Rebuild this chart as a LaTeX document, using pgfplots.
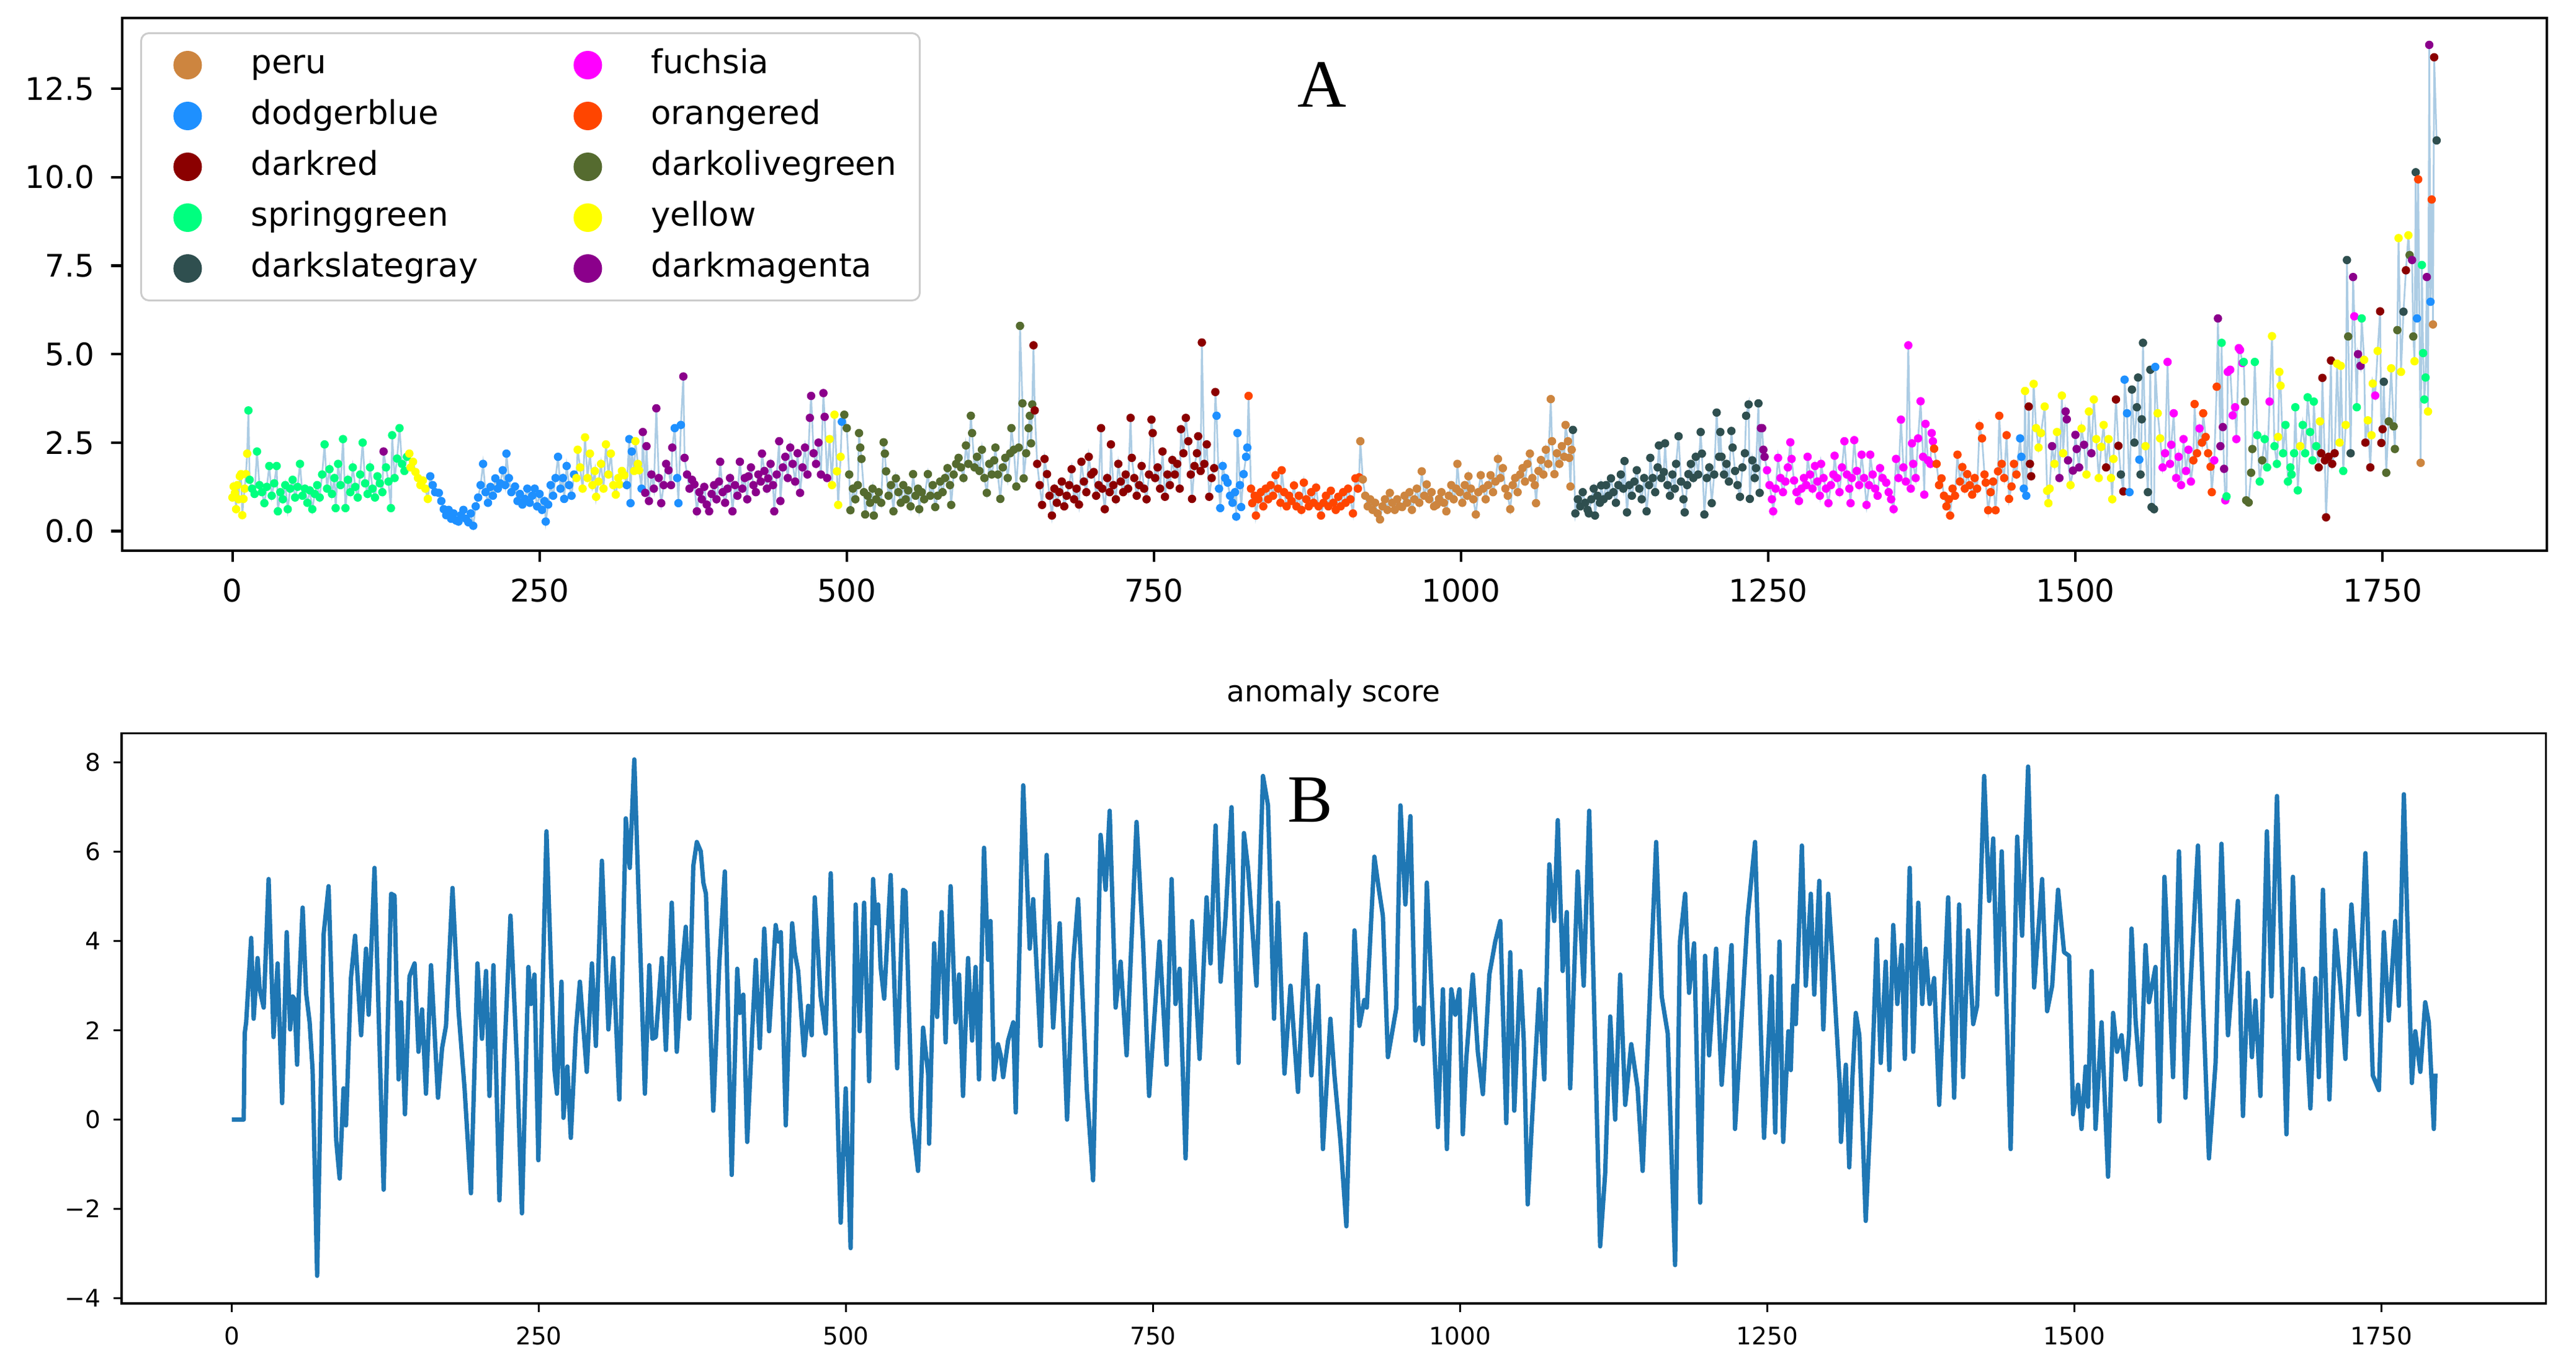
\documentclass[border=0pt]{standalone}
\usepackage{fontspec}
\setmainfont{DejaVu Sans}
\newfontfamily\serifA{Liberation Serif}
\usepackage{pgfplots}
\usepackage{pgfplotstable}
\pgfplotsset{compat=1.18}
\definecolor{peru}{RGB}{205,133,63}
\definecolor{dodgerblue}{RGB}{30,144,255}
\definecolor{darkredc}{RGB}{139,0,0}
\definecolor{springgreen}{RGB}{0,255,127}
\definecolor{darkslategray}{RGB}{47,79,79}
\definecolor{fuchsia}{RGB}{255,0,255}
\definecolor{orangered}{RGB}{255,69,0}
\definecolor{darkolivegreen}{RGB}{85,107,47}
\definecolor{yellowc}{RGB}{255,255,0}
\definecolor{darkmagenta}{RGB}{139,0,139}
\definecolor{linec}{RGB}{172,204,228}
\definecolor{mplblue}{RGB}{31,119,180}

\pgfplotstableread[row sep=\\]{
x y c\\
0 0.95 i\\ 1 1.26 i\\ 2 1.08 i\\ 3 0.62 i\\ 4 1.30 i\\ 5 0.90 i\\ 6 1.55 i\\ 7 1.61 i\\ 8 0.45 i\\ 9 0.91 i\\ 10 1.20 i\\ 11 1.61 i\\ 12 2.19 i\\
13 3.41 d\\ 14 1.45 d\\ 16 1.20 d\\ 18 1.05 d\\ 20 2.25 d\\ 22 1.30 d\\ 24 1.10 d\\ 26 0.79 d\\ 28 1.25 d\\ 30 1.84 d\\ 32 1.00 d\\ 34 1.35 d\\ 36 1.84 d\\ 37 0.56 d\\ 39 1.10 d\\ 41 0.90 d\\ 43 1.30 d\\ 45 0.62 d\\ 47 1.20 d\\ 49 1.45 d\\ 51 0.95 d\\ 53 1.25 d\\ 55 1.90 d\\ 57 1.00 d\\ 59 1.20 d\\ 61 0.80 d\\ 63 1.15 d\\ 65 0.62 d\\ 67 1.05 d\\ 69 1.30 d\\ 71 0.95 d\\ 73 1.60 d\\ 75 2.45 d\\ 77 1.20 d\\ 79 1.75 d\\ 81 1.05 d\\ 83 1.50 d\\ 84 0.65 d\\ 86 1.90 d\\ 88 1.30 d\\ 90 2.60 d\\ 92 0.65 d\\ 94 1.45 d\\ 96 1.10 d\\ 98 1.80 d\\ 100 1.25 d\\ 102 0.95 d\\ 104 1.60 d\\ 106 2.50 d\\ 108 1.35 d\\ 110 1.05 d\\ 112 1.80 d\\ 114 1.20 d\\ 116 0.95 d\\ 118 1.55 d\\ 120 1.35 d\\ 122 1.10 d\\ 123 2.25 j\\ 125 1.80 d\\ 127 1.40 d\\ 129 0.65 d\\ 130 2.71 d\\ 132 1.50 d\\ 134 2.05 d\\ 136 2.91 d\\ 138 1.90 d\\ 140 1.70 d\\ 142 2.10 d\\
144 2.19 i\\ 145 1.80 i\\ 147 1.96 i\\ 149 1.67 i\\ 151 1.50 i\\ 153 1.30 i\\ 155 1.43 i\\ 157 1.20 i\\ 159 0.91 i\\
161 1.55 b\\ 163 1.30 b\\ 165 1.10 b\\ 168 1.08 b\\ 170 0.85 b\\ 172 0.62 b\\ 174 0.45 b\\ 176 0.60 b\\ 178 0.35 b\\ 180 0.50 b\\ 182 0.30 b\\ 184 0.27 b\\ 186 0.45 b\\ 188 0.60 b\\ 190 0.35 b\\ 192 0.25 b\\ 194 0.50 b\\ 196 0.15 b\\ 198 0.70 b\\ 200 0.95 b\\ 202 1.30 b\\ 204 1.90 b\\ 206 1.10 b\\ 208 0.80 b\\ 210 1.25 b\\ 212 1.00 b\\ 214 1.49 b\\ 216 1.20 b\\ 218 1.35 b\\ 220 1.72 b\\ 222 1.30 b\\ 223 2.19 b\\ 225 1.50 b\\ 227 1.10 b\\ 230 1.26 b\\ 232 0.85 b\\ 234 1.05 b\\ 236 0.75 b\\ 238 0.91 b\\ 240 1.20 b\\ 242 0.80 b\\ 244 1.00 b\\ 246 1.20 b\\ 248 0.70 b\\ 250 1.05 b\\ 252 0.60 b\\ 254 0.85 b\\ 255 0.27 b\\ 257 0.75 b\\ 259 1.30 b\\ 261 1.00 b\\ 263 1.50 b\\ 265 2.10 b\\ 267 1.20 b\\ 269 1.50 b\\ 270 0.91 b\\ 272 1.84 b\\ 274 1.30 b\\ 276 1.00 b\\ 278 1.60 b\\
280 1.50 i\\ 281 2.30 i\\ 283 1.80 i\\ 285 1.20 i\\ 287 2.65 i\\ 289 1.50 i\\ 291 2.19 i\\ 293 1.30 i\\ 295 1.70 i\\ 296 0.97 i\\ 298 1.40 i\\ 300 1.90 i\\ 302 1.20 i\\ 304 2.45 i\\ 306 1.60 i\\ 308 2.19 i\\ 310 1.30 i\\ 312 1.03 i\\ 314 1.50 i\\ 315 1.32 i\\ 317 1.70 i\\ 319 1.58 i\\
321 1.30 b\\ 323 2.60 b\\ 324 0.79 b\\ 325 2.25 b\\ 327 1.70 i\\ 328 2.54 i\\ 330 1.90 i\\ 331 1.72 i\\ 333 1.20 b\\
334 2.80 j\\ 336 1.08 j\\ 337 2.40 j\\ 339 0.85 j\\ 341 1.60 j\\ 343 1.20 j\\ 345 3.47 j\\ 347 1.50 j\\ 349 0.79 j\\ 351 1.30 j\\ 353 1.90 j\\ 355 1.72 j\\ 357 1.30 j\\ 358 2.36 j\\ 360 2.91 b\\ 362 1.50 b\\ 363 0.79 b\\ 365 3.00 b\\ 367 4.37 j\\ 368 2.07 j\\ 370 1.60 j\\ 372 1.20 j\\ 374 1.45 j\\ 376 1.32 j\\ 378 0.56 j\\ 380 1.10 j\\ 382 0.90 j\\ 384 1.25 j\\ 386 0.75 j\\ 388 0.56 j\\ 390 1.05 j\\ 392 1.30 j\\ 394 0.90 j\\ 396 1.40 j\\ 397 1.96 j\\ 399 1.10 j\\ 401 0.80 j\\ 403 1.20 j\\ 405 1.50 j\\ 407 0.56 j\\ 409 1.30 j\\ 411 1.00 j\\ 413 1.96 j\\ 415 1.20 j\\ 417 1.50 j\\ 419 0.90 j\\ 420 1.55 j\\ 422 1.80 j\\ 424 1.30 j\\ 426 1.10 j\\ 428 1.60 j\\ 430 1.40 j\\ 431 2.19 j\\ 433 1.70 j\\ 435 1.20 j\\ 436 1.49 j\\ 438 1.90 j\\ 440 1.30 j\\ 441 0.56 j\\ 443 1.60 j\\ 445 2.54 j\\ 446 0.85 j\\ 448 1.80 j\\ 450 2.10 j\\ 452 1.50 j\\ 454 2.36 j\\ 456 1.90 j\\ 458 1.40 j\\ 460 2.20 j\\ 462 1.08 j\\ 464 1.80 j\\ 466 2.36 j\\ 468 1.60 j\\ 470 3.20 j\\ 471 3.82 j\\ 473 2.20 j\\ 475 1.90 j\\ 477 2.50 j\\ 479 1.60 j\\ 481 3.90 j\\ 482 3.23 j\\
484 1.50 j\\ 486 2.60 i\\ 488 1.30 i\\ 490 3.29 i\\ 492 1.69 i\\ 493 0.74 i\\ 495 2.10 i\\ 496 3.09 b\\
498 3.29 h\\ 500 2.91 h\\ 502 1.60 h\\ 503 0.59 h\\ 505 1.20 h\\ 507 0.90 h\\ 509 1.30 h\\ 510 2.77 h\\ 511 2.36 h\\ 512 2.04 h\\ 514 1.10 h\\ 515 0.47 h\\ 517 1.00 h\\ 519 0.80 h\\ 521 1.20 h\\ 522 0.44 h\\ 524 0.90 h\\ 526 1.10 h\\ 528 0.80 h\\ 530 2.51 h\\ 531 2.19 h\\ 532 1.69 h\\ 534 1.00 h\\ 536 1.30 h\\ 538 0.56 h\\ 540 1.49 h\\ 542 1.10 h\\ 544 0.80 h\\ 546 1.30 h\\ 548 0.90 h\\ 550 1.15 h\\ 552 0.70 h\\ 554 1.61 h\\ 556 1.00 h\\ 558 1.20 h\\ 559 0.62 h\\ 561 1.10 h\\ 563 0.90 h\\ 566 1.61 h\\ 568 1.00 h\\ 570 1.30 h\\ 572 0.68 h\\ 574 1.00 h\\ 576 1.40 h\\ 578 1.10 h\\ 580 1.50 h\\ 582 1.78 h\\ 584 1.30 h\\ 585 0.74 h\\ 587 1.60 h\\ 589 1.90 h\\ 591 2.07 h\\ 593 1.80 h\\ 595 1.50 h\\ 597 2.42 h\\ 599 1.90 h\\ 601 3.26 h\\ 602 2.77 h\\ 604 1.80 h\\ 606 2.10 h\\ 608 1.70 h\\ 610 2.30 h\\ 612 1.50 h\\ 614 1.08 h\\ 616 1.90 h\\ 618 1.60 h\\ 620 2.00 h\\ 621 2.36 h\\ 623 1.60 h\\ 625 0.91 h\\ 627 1.80 h\\ 629 2.07 h\\ 631 1.50 h\\ 633 2.20 h\\ 634 2.91 h\\ 636 2.30 h\\ 638 1.26 h\\ 640 2.36 h\\ 641 5.80 h\\ 643 3.61 h\\ 644 1.49 h\\ 646 2.20 h\\ 648 2.91 h\\ 649 3.26 h\\ 650 2.48 h\\ 651 3.58 h\\
652 5.25 c\\ 653 3.41 c\\ 655 1.90 c\\ 657 1.30 c\\ 659 0.74 c\\ 661 2.04 c\\ 663 1.61 c\\ 665 1.00 c\\ 667 0.44 c\\ 669 1.20 c\\ 671 0.80 c\\ 673 1.10 c\\ 675 1.40 c\\ 677 0.70 c\\ 679 1.00 c\\ 681 1.30 c\\ 683 1.75 c\\ 685 0.90 c\\ 687 1.20 c\\ 689 0.75 c\\ 691 1.96 c\\ 693 1.40 c\\ 695 1.10 c\\ 697 2.10 c\\ 699 1.60 c\\ 701 1.67 c\\ 703 1.00 c\\ 705 1.30 c\\ 707 2.91 c\\ 708 1.20 c\\ 710 0.62 c\\ 712 1.50 c\\ 714 1.10 c\\ 715 2.45 c\\ 717 1.30 c\\ 719 0.90 c\\ 721 1.90 c\\ 723 1.40 c\\ 725 1.10 c\\ 727 1.60 c\\ 729 1.20 c\\ 731 3.20 c\\ 732 2.07 c\\ 734 1.50 c\\ 736 1.00 c\\ 738 1.30 c\\ 740 1.84 c\\ 742 1.20 c\\ 744 0.90 c\\ 746 1.60 c\\ 748 3.15 c\\ 749 2.77 c\\ 751 1.50 c\\ 753 1.80 c\\ 755 1.20 c\\ 757 2.25 c\\ 759 0.97 c\\ 761 1.60 c\\ 763 1.30 c\\ 765 2.01 c\\ 767 1.60 c\\ 769 1.90 c\\ 771 1.20 c\\ 772 2.88 c\\ 774 2.20 c\\ 776 3.20 c\\ 778 2.54 c\\ 780 1.60 c\\ 781 0.91 c\\ 783 1.84 c\\ 785 2.20 c\\ 786 2.68 c\\ 788 1.70 c\\ 789 5.33 c\\ 791 1.90 c\\ 793 2.45 c\\ 795 0.97 c\\ 797 1.50 c\\ 799 1.78 c\\ 800 3.93 c\\
801 3.26 b\\ 803 1.20 b\\ 804 0.65 b\\ 806 1.84 b\\ 808 1.50 b\\ 810 1.37 b\\ 812 1.00 b\\ 814 0.80 b\\ 816 1.10 b\\ 817 0.41 b\\ 818 2.77 b\\ 820 1.30 b\\ 821 0.68 b\\ 823 1.61 b\\ 825 2.10 b\\ 826 2.36 b\\
827 3.82 g\\ 829 1.20 g\\ 830 0.79 g\\ 832 1.00 g\\ 833 0.44 g\\ 835 0.90 g\\ 837 1.10 g\\ 839 0.70 g\\ 841 1.20 g\\ 843 0.90 g\\ 845 1.30 g\\ 847 1.00 g\\ 849 1.58 g\\ 851 1.20 g\\ 853 0.80 g\\ 854 1.72 g\\ 856 1.10 g\\ 858 0.70 g\\ 860 1.00 g\\ 862 0.85 g\\ 864 1.29 g\\ 866 0.70 g\\ 868 1.00 g\\ 870 0.60 g\\ 872 1.37 g\\ 874 0.90 g\\ 876 0.70 g\\ 878 1.10 g\\ 880 0.80 g\\ 882 1.23 g\\ 884 0.70 g\\ 886 0.44 g\\ 888 0.80 g\\ 890 1.00 g\\ 892 0.70 g\\ 894 1.14 g\\ 896 0.80 g\\ 898 0.60 g\\ 900 0.97 g\\ 902 0.70 g\\ 904 1.10 g\\ 906 0.80 g\\ 908 1.20 g\\ 910 0.90 g\\ 912 0.50 g\\ 914 1.49 g\\ 916 1.20 g\\ 917 1.52 g\\
918 2.54 a\\ 920 1.46 a\\ 922 1.00 a\\ 924 0.70 a\\ 926 0.90 a\\ 928 0.60 a\\ 930 0.80 a\\ 932 0.50 a\\ 934 0.33 a\\ 936 0.70 a\\ 938 0.90 a\\ 940 0.60 a\\ 942 1.08 a\\ 944 0.80 a\\ 946 0.60 a\\ 948 0.90 a\\ 950 0.70 a\\ 952 0.68 a\\ 954 1.00 a\\ 956 0.80 a\\ 958 1.10 a\\ 960 0.60 a\\ 962 0.90 a\\ 964 1.20 a\\ 966 0.80 a\\ 968 1.69 a\\ 970 1.00 a\\ 972 1.32 a\\ 974 0.90 a\\ 976 1.10 a\\ 978 0.70 a\\ 980 0.74 a\\ 982 0.91 a\\ 984 1.10 a\\ 986 0.80 a\\ 988 0.56 a\\ 990 1.00 a\\ 992 1.30 a\\ 994 0.90 a\\ 996 1.20 a\\ 997 1.90 a\\ 999 1.10 a\\ 1001 0.80 a\\ 1003 1.30 a\\ 1005 1.00 a\\ 1006 1.55 a\\ 1008 1.20 a\\ 1010 0.90 a\\ 1012 0.47 a\\ 1014 1.10 a\\ 1016 1.58 a\\ 1018 1.20 a\\ 1020 0.90 a\\ 1022 1.30 a\\ 1024 1.58 a\\ 1026 1.10 a\\ 1028 1.40 a\\ 1030 2.04 a\\ 1032 1.50 a\\ 1034 1.78 a\\ 1036 1.20 a\\ 1038 1.00 a\\ 1040 0.62 a\\ 1042 1.30 a\\ 1044 1.50 a\\ 1046 1.10 a\\ 1048 1.60 a\\ 1050 1.78 a\\ 1052 1.40 a\\ 1054 1.90 a\\ 1056 2.19 a\\ 1058 1.50 a\\ 1060 1.30 a\\ 1061 0.79 a\\ 1063 1.70 a\\ 1065 2.01 a\\ 1067 1.60 a\\ 1069 2.30 a\\ 1071 1.90 a\\ 1073 3.73 a\\ 1074 2.54 a\\ 1076 1.61 a\\ 1078 2.20 a\\ 1080 1.90 a\\ 1082 2.40 a\\ 1084 2.10 a\\ 1085 3.00 a\\ 1087 2.54 a\\ 1088 2.07 a\\ 1089 1.26 a\\ 1090 2.30 a\\
1091 2.86 e\\ 1093 0.50 e\\ 1095 0.90 e\\ 1097 0.70 e\\ 1099 1.10 e\\ 1101 0.80 e\\ 1103 0.60 e\\ 1104 0.50 e\\ 1106 0.90 e\\ 1108 1.20 e\\ 1109 0.44 e\\ 1111 1.00 e\\ 1113 0.80 e\\ 1114 1.29 e\\ 1116 0.90 e\\ 1118 1.30 e\\ 1120 1.00 e\\ 1122 1.49 e\\ 1124 1.10 e\\ 1126 0.80 e\\ 1128 1.30 e\\ 1130 1.60 e\\ 1132 1.20 e\\ 1133 1.98 e\\ 1135 0.53 e\\ 1137 1.30 e\\ 1139 1.00 e\\ 1141 1.40 e\\ 1143 1.72 e\\ 1145 1.20 e\\ 1147 0.90 e\\ 1149 1.50 e\\ 1151 0.56 e\\ 1153 1.30 e\\ 1154 2.07 e\\ 1156 1.50 e\\ 1158 1.10 e\\ 1160 1.80 e\\ 1161 2.42 e\\ 1163 1.50 e\\ 1165 1.67 e\\ 1166 2.48 e\\ 1168 1.30 e\\ 1170 1.00 e\\ 1172 1.60 e\\ 1174 1.20 e\\ 1175 1.90 e\\ 1177 2.68 e\\ 1179 1.40 e\\ 1181 0.90 e\\ 1182 0.53 e\\ 1184 1.30 e\\ 1185 1.61 e\\ 1187 1.90 e\\ 1189 1.50 e\\ 1191 2.10 e\\ 1193 1.60 e\\ 1195 2.80 e\\ 1196 2.19 e\\ 1198 0.47 e\\ 1200 1.50 e\\ 1202 1.80 e\\ 1204 0.79 e\\ 1206 1.60 e\\ 1208 3.35 e\\ 1210 2.10 e\\ 1211 2.80 e\\ 1212 2.10 e\\ 1214 1.60 e\\ 1216 1.90 e\\ 1218 1.40 e\\ 1220 2.83 e\\ 1221 2.36 e\\ 1223 1.70 e\\ 1225 1.30 e\\ 1227 0.97 e\\ 1229 1.80 e\\ 1231 2.20 e\\ 1232 3.26 e\\ 1234 3.58 e\\ 1235 0.91 e\\ 1237 2.00 e\\ 1239 1.50 e\\ 1240 1.78 e\\ 1242 3.61 e\\ 1243 1.08 e\\
1244 2.91 j\\ 1245 2.91 j\\ 1246 2.30 j\\ 1247 2.10 j\\
1249 1.72 f\\ 1251 1.30 f\\ 1253 0.90 f\\ 1254 0.56 f\\ 1256 1.20 f\\ 1258 2.07 f\\ 1260 1.50 f\\ 1262 1.10 f\\ 1264 1.40 f\\ 1266 1.80 f\\ 1268 2.51 f\\ 1269 2.04 f\\ 1271 1.43 f\\ 1273 1.10 f\\ 1275 0.85 f\\ 1277 1.20 f\\ 1279 1.50 f\\ 1281 1.30 f\\ 1282 2.10 f\\ 1284 1.60 f\\ 1286 1.20 f\\ 1288 1.84 f\\ 1290 1.40 f\\ 1292 1.00 f\\ 1293 1.90 f\\ 1295 1.50 f\\ 1297 1.20 f\\ 1299 0.79 f\\ 1301 1.30 f\\ 1303 1.60 f\\ 1304 2.13 f\\ 1306 1.50 f\\ 1308 1.10 f\\ 1310 1.80 f\\ 1312 2.54 f\\ 1314 1.60 f\\ 1316 1.20 f\\ 1317 0.79 f\\ 1318 1.50 f\\ 1320 2.57 f\\ 1322 1.70 f\\ 1324 1.30 f\\ 1326 2.16 f\\ 1328 1.50 f\\ 1330 0.74 f\\ 1332 1.30 f\\ 1333 2.16 f\\ 1335 1.60 f\\ 1337 1.20 f\\ 1339 1.00 f\\ 1341 1.78 f\\ 1343 1.50 f\\ 1346 1.37 f\\ 1348 1.10 f\\ 1350 0.90 f\\ 1352 0.62 f\\ 1354 2.04 f\\ 1356 1.50 f\\ 1358 3.15 f\\ 1360 1.80 f\\ 1362 1.40 f\\ 1364 5.25 f\\ 1366 1.20 f\\ 1367 2.48 f\\ 1368 1.90 f\\ 1370 1.50 f\\ 1372 2.62 f\\ 1374 3.67 f\\ 1376 2.10 f\\ 1377 1.03 f\\ 1378 3.03 f\\ 1380 2.00 f\\ 1382 1.90 f\\ 1383 2.77 f\\ 1384 2.54 f\\
1385 2.33 g\\ 1387 1.90 g\\ 1389 1.30 g\\ 1391 1.49 g\\ 1393 1.00 g\\ 1395 0.70 g\\ 1397 0.90 g\\ 1398 0.44 g\\ 1400 1.20 g\\ 1402 1.00 g\\ 1404 2.16 g\\ 1406 1.40 g\\ 1408 1.81 g\\ 1410 1.20 g\\ 1412 1.61 g\\ 1414 1.30 g\\ 1416 1.03 g\\ 1418 1.50 g\\ 1420 1.20 g\\ 1422 2.97 g\\ 1424 2.62 g\\ 1426 1.60 g\\ 1427 1.37 g\\ 1429 0.59 g\\ 1431 1.10 g\\ 1433 1.40 g\\ 1435 0.59 g\\ 1437 1.69 g\\ 1438 3.26 g\\ 1440 1.90 g\\ 1442 1.50 g\\ 1444 2.71 g\\ 1446 0.91 g\\ 1448 1.26 g\\ 1450 1.90 g\\ 1452 1.60 g\\
1455 2.62 b\\ 1456 2.10 b\\ 1458 1.20 b\\ 1459 3.96 i\\ 1460 1.00 b\\ 1462 3.52 c\\ 1463 1.90 c\\ 1464 1.55 c\\ 1466 4.16 i\\ 1468 2.91 i\\ 1470 2.36 i\\ 1472 2.77 i\\ 1475 3.52 i\\ 1477 1.14 i\\ 1478 0.79 i\\
1479 1.20 i\\ 1481 2.40 j\\ 1483 1.90 i\\ 1485 2.80 i\\ 1487 1.50 j\\ 1489 3.83 i\\ 1490 2.20 i\\ 1492 3.38 j\\ 1493 3.16 j\\ 1494 2.00 j\\ 1496 1.30 i\\ 1498 1.71 j\\ 1500 2.72 j\\ 1501 2.32 j\\ 1503 1.80 j\\ 1505 2.90 i\\ 1507 2.44 j\\ 1509 1.60 i\\ 1511 3.38 i\\ 1513 2.20 j\\ 1515 3.72 i\\ 1517 2.60 i\\ 1519 1.50 i\\ 1521 2.38 i\\ 1523 3.00 i\\ 1525 1.80 c\\ 1527 2.60 i\\ 1529 1.50 i\\ 1530 0.90 i\\ 1531 2.04 i\\ 1533 3.72 c\\ 1535 2.41 c\\ 1537 1.60 e\\ 1539 1.12 c\\ 1540 4.28 b\\ 1542 3.33 b\\ 1544 1.10 b\\ 1546 4.00 e\\ 1548 2.50 e\\ 1550 3.50 e\\ 1551 4.34 e\\ 1552 2.02 b\\ 1553 1.60 e\\ 1554 3.16 e\\ 1555 5.32 e\\ 1557 2.40 i\\ 1559 1.10 e\\ 1561 4.56 e\\ 1562 0.68 e\\ 1564 0.62 e\\ 1565 4.64 b\\ 1567 3.33 i\\ 1569 2.62 i\\
1571 1.80 f\\ 1573 2.20 f\\ 1575 4.78 f\\ 1577 1.90 f\\ 1578 2.44 f\\ 1580 3.33 f\\ 1582 1.50 f\\ 1584 2.10 f\\ 1586 1.30 f\\ 1588 2.60 f\\ 1590 1.70 f\\ 1592 2.30 f\\ 1594 1.40 f\\ 1596 2.00 g\\ 1597 3.59 g\\ 1599 2.20 g\\ 1601 2.90 f\\ 1603 2.50 g\\ 1604 3.33 g\\ 1606 2.66 g\\ 1608 2.20 g\\ 1610 1.82 g\\ 1611 1.10 g\\ 1613 2.00 f\\ 1615 4.08 g\\ 1616 6.01 j\\ 1618 2.40 j\\ 1619 5.32 d\\ 1620 2.94 j\\ 1621 1.76 j\\ 1622 0.87 f\\ 1623 0.98 d\\ 1624 4.50 f\\ 1626 4.56 f\\ 1628 3.27 f\\ 1630 3.50 f\\ 1631 2.60 f\\ 1633 5.17 f\\ 1634 5.12 f\\ 1636 4.75 f\\ 1637 4.78 d\\ 1638 3.66 h\\ 1639 0.87 h\\ 1641 0.81 h\\ 1643 1.65 h\\ 1644 2.32 h\\ 1646 4.78 d\\ 1648 2.71 d\\ 1650 1.40 d\\ 1652 2.00 h\\ 1654 2.60 d\\ 1656 1.80 d\\ 1658 3.66 f\\ 1660 5.51 i\\ 1662 2.40 d\\ 1664 1.90 d\\ 1665 2.66 i\\ 1666 4.50 i\\ 1667 4.11 i\\ 1669 2.20 d\\ 1671 3.00 d\\ 1673 1.40 d\\ 1675 1.80 d\\ 1676 1.60 d\\ 1678 2.20 d\\ 1679 3.50 d\\ 1681 1.15 d\\ 1683 2.40 i\\ 1685 3.00 d\\ 1687 2.20 d\\ 1689 3.78 d\\ 1691 2.80 d\\ 1693 2.00 d\\ 1694 3.66 d\\ 1696 2.40 d\\
1698 1.80 c\\ 1699 3.10 i\\ 1700 2.20 c\\ 1701 4.33 c\\ 1703 2.00 c\\ 1704 0.39 c\\ 1706 2.10 c\\ 1708 4.82 c\\ 1709 1.90 c\\ 1711 2.20 c\\ 1713 4.73 i\\ 1715 2.50 i\\ 1716 4.67 i\\ 1718 1.70 d\\ 1720 3.00 i\\ 1721 7.66 e\\ 1722 5.50 h\\ 1724 2.20 e\\ 1726 7.18 j\\ 1727 6.07 f\\ 1729 3.50 d\\ 1730 5.00 j\\ 1732 4.67 j\\ 1733 6.01 d\\ 1735 4.84 i\\ 1736 2.50 c\\ 1738 3.13 i\\ 1740 1.80 c\\ 1741 2.71 i\\ 1742 4.17 i\\ 1744 3.83 f\\ 1746 5.09 i\\ 1748 6.21 c\\ 1749 2.49 c\\ 1750 2.88 c\\ 1751 4.22 e\\ 1753 1.65 h\\ 1755 3.10 h\\ 1757 4.60 i\\ 1759 2.96 h\\ 1760 2.32 h\\ 1762 5.68 h\\ 1763 8.28 i\\ 1765 4.50 i\\ 1767 6.20 e\\ 1769 7.37 c\\ 1771 8.36 i\\ 1772 7.80 h\\ 1774 7.66 j\\ 1775 5.50 h\\ 1776 4.80 i\\ 1777 10.14 e\\ 1778 6.01 b\\ 1779 9.94 g\\ 1781 1.93 a\\ 1782 7.52 d\\ 1783 5.03 d\\ 1784 3.72 d\\ 1785 4.34 d\\ 1786 7.18 j\\ 1787 3.38 i\\ 1788 13.74 j\\ 1789 6.48 b\\ 1790 9.37 g\\ 1791 5.84 a\\ 1792 13.39 c\\ 1794 11.04 e\\
}\topdata

\begin{document}
\begin{tikzpicture}
\useasboundingbox (0,0) rectangle (830.4pt,439.4pt);
\begin{axis}[
  at={(39.4pt,261.8pt)}, anchor=south west,
  width=781.6pt, height=171.8pt, scale only axis,
  xmin=-89.7, xmax=1883.7, ymin=-0.552, ymax=14.5,
  axis line style={line width=0.83pt},
  every tick/.style={black, line width=0.83pt},
  major tick length=3.6pt, tick align=outside,
  xtick pos=lower, ytick pos=left,
  xtick={0,250,500,750,1000,1250,1500,1750},
  xticklabels={0,250,500,750,1000,1250,1500,1750},
  ytick={0,2.5,5,7.5,10,12.5},
  yticklabels={0.0,2.5,5.0,7.5,10.0,12.5},
  ticklabel style={font=\fontsize{10}{12}\selectfont, inner sep=0pt},
  xticklabel shift=5.2pt, yticklabel shift=5.2pt,
  legend columns=2,
  legend cell align=left,
  legend style={at={(0.00742,0.9732)}, anchor=north west,
    draw=black!20, line width=0.6pt, rounded corners=2.5pt, fill=white,
    inner xsep=0pt, inner ysep=2.1pt, row sep=0pt,
    nodes={inner sep=0pt, text height=7.6pt, text depth=2.4pt, text width=86.6pt, align=left,
      font=\fontsize{10.6}{12.5}\selectfont},
    /tikz/every even column/.append style={column sep=7pt}},
  legend image code/.code={\path[draw=none,fill=none] (-15pt,-8.2pt) rectangle (20.4pt,8.2pt); \fill[draw=none] (0pt,0pt) circle (4.6pt);},
]
\addplot[no marks, color=linec, line width=0.55pt, forget plot] table[x=x,y=y] {\topdata};
\addplot[scatter, only marks, mark=*, mark size=1.15pt, forget plot,
  scatter src=explicit symbolic,
  scatter/classes={a={peru},b={dodgerblue},c={darkredc},d={springgreen},e={darkslategray},
    f={fuchsia},g={orangered},h={darkolivegreen},i={yellowc},j={darkmagenta}}]
  table[x=x,y=y,meta=c] {\topdata};
\addlegendimage{peru}\addlegendentry{peru}
\addlegendimage{fuchsia}\addlegendentry{fuchsia}
\addlegendimage{dodgerblue}\addlegendentry{dodgerblue}
\addlegendimage{orangered}\addlegendentry{orangered}
\addlegendimage{darkredc}\addlegendentry{darkred}
\addlegendimage{darkolivegreen}\addlegendentry{darkolivegreen}
\addlegendimage{springgreen}\addlegendentry{springgreen}
\addlegendimage{yellowc}\addlegendentry{yellow}
\addlegendimage{darkslategray}\addlegendentry{darkslategray}
\addlegendimage{darkmagenta}\addlegendentry{darkmagenta}
\end{axis}

\begin{axis}[
  at={(39.2pt,19.0pt)}, anchor=south west,
  width=781.4pt, height=183.8pt, scale only axis,
  xmin=-89.7, xmax=1883.7, ymin=-4.12, ymax=8.65,
  axis line style={line width=0.61pt},
  every tick/.style={black, line width=0.61pt},
  major tick length=2.7pt, tick align=outside,
  xtick pos=lower, ytick pos=left,
  xtick={0,250,500,750,1000,1250,1500,1750},
  xticklabels={0,250,500,750,1000,1250,1500,1750},
  ytick={-4,-2,0,2,4,6,8},
  yticklabels={−4,−2,0,2,4,6,8},
  ticklabel style={font=\fontsize{7.8}{9}\selectfont, inner sep=0pt},
  xticklabel shift=4.7pt, yticklabel shift=3.9pt,
  title={anomaly score},
  title style={at={(0.5,1)}, anchor=base, yshift=4.2pt, inner sep=0pt, font=\fontsize{9.4}{11}\selectfont},
]
\addplot[no marks, color=mplblue, line width=1.4pt, line join=round] coordinates {
(0,0) (9.7,0) (10.5,1.93) (11.7,2.18) (15.8,4.07) (17.8,2.26) (21,3.62) (22.7,2.92) (26,2.51) (30,5.39) (34,1.85) (37.3,3.5) (41,0.37) (44.7,4.2) (47.5,2.02) (49.6,2.76) (51,2.7) (53.2,1.23) (54.5,2.76) (57.7,4.75) (60.5,2.84) (63.4,2.18) (65.8,1.11) (69.5,-3.5) (74.8,4.16) (78.8,5.23) (85,-0.46) (87.8,-1.32) (91,0.7) (93,-0.13) (97,3.17) (100.4,4.12) (105.3,1.89) (109.3,3.83) (111.4,2.35) (116.2,5.64) (123.6,-1.57) (129.7,5.06) (132.5,5.02) (135.8,0.9) (137.8,2.63) (141,0.12) (144.7,3.21) (148.8,3.5) (152,1.52) (154.9,2.47) (158.1,0.58) (162.2,3.46) (167.9,0.49) (171.2,1.6) (174.4,2.1) (179.7,5.19) (184.6,2.43) (189.5,0.7) (194.7,-1.65) (200,3.5) (203.7,1.81) (207,3.33) (209.8,0.53) (213,3.46) (217.9,-1.81) (222,1.52) (226.9,4.57) (232.2,1.28) (236.2,-2.1) (241.5,3.42) (243.5,2.59) (246.4,3.25) (249.6,-0.91) (256.2,6.46) (262.7,1.11) (264.7,0.58) (268.4,3.09) (270,0.04) (273.2,1.19) (276,-0.41) (280.1,1.98) (283.4,3.09) (289,1.07) (293.2,3.5) (296.4,1.65) (301.3,5.8) (306.6,2.02) (310.6,3.62) (315.5,0.45) (320.8,6.75) (324,5.64) (327.7,8.07) (336.3,0.58) (339.9,3.46) (342.4,1.81) (345.2,1.85) (350.1,3.62) (353.4,1.56) (358.2,4.86) (362.3,1.52) (366.4,3.33) (369.6,4.32) (372.5,2.26) (375.7,5.68) (378.6,6.22) (381.8,6.01) (383.9,5.31) (386,5.06) (392,0.2) (396.9,3.5) (401.4,5.56) (407,-1.24) (411.5,3.38) (413.6,2.39) (416.4,2.8) (419.6,-0.5) (423.7,1.98) (426.6,3.58) (429.8,1.6) (433.5,4.28) (437.5,1.98) (442.8,4.36) (444.9,3.99) (447,4.2) (451,-0.13) (456.2,4.4) (458.3,3.75) (461.1,3.33) (466,1.44) (469.3,2.55) (472.1,1.89) (474.6,4.98) (479.4,2.76) (483.5,1.93) (487.6,5.52) (495.7,-2.31) (499.8,0.7) (503.8,-2.88) (507.9,4.82) (511.2,1.98) (514.8,4.86) (518.9,0.86) (522.1,5.39) (524.2,4.4) (526.2,4.82) (528.2,3.42) (531.1,2.71) (536.4,5.48) (541.7,1.15) (546.5,5.15) (548.5,5.11) (553.9,0.04) (558.7,-1.15) (562.8,2.06) (566.9,1.03) (567.7,-0.54) (571.8,3.95) (574.2,2.3) (577.9,4.65) (581.1,1.73) (585.2,5.23) (589.2,2.18) (592.1,3.25) (595.3,0.53) (599.4,3.62) (602.7,1.77) (605.5,3.42) (608.3,0.9) (612.4,6.09) (615.7,3.58) (617.7,4.45) (620.5,0.9) (623.8,1.69) (626,1.44) (628,0.95) (632,1.77) (636.2,2.18) (638.2,0.16) (644.3,7.49) (649.6,3.83) (652.4,4.94) (658.5,1.65) (663.4,5.93) (668.7,2.06) (674,4.4) (680,0) (685,3.54) (689,4.94) (696,0.7) (701.2,-1.36) (707.3,6.38) (711.4,5.15) (714.7,6.92) (719.5,2.51) (723.6,3.54) (728.5,1.44) (736.6,6.67) (741.9,3.95) (746.8,0.53) (750,1.85) (755.3,3.99) (761,1.23) (765.1,5.39) (768.3,2.59) (771.6,3.38) (776.5,-0.87) (781.8,4.45) (787.9,1.36) (793.6,4.98) (796.8,3.5) (800.9,6.59) (805,3.09) (809,4.53) (813.9,7.0) (819.6,1.27) (824,6.42) (827.3,5.64) (834.2,3.0) (839.5,7.7) (843.6,7.04) (848.5,2.26) (851.7,4.86) (857,1.03) (861.9,3.0) (868,0.62) (874.1,4.16) (879,0.99) (884.3,3.0) (888.3,-0.66) (894.4,2.26) (897.7,0.99) (902.6,-0.5) (907.4,-2.39) (914,4.24) (918,2.1) (922,2.68) (924,2.51) (930.2,5.89) (933.9,5.15) (937.1,4.57) (941.2,1.4) (948.1,2.51) (951.4,7.04) (955.4,4.82) (959.5,6.8) (963.6,1.77) (966.8,2.51) (969.7,1.69) (972.9,5.31) (976.6,3.0) (981.9,-0.17) (986,2.92) (989.2,-0.66) (992.8,2.92) (996.1,2.35) (999.4,2.92) (1002.2,-0.33) (1005,1.36) (1010.3,3.25) (1014.4,1.52) (1018.5,0.57) (1023.8,3.25) (1028.6,3.99) (1032.7,4.45) (1037.6,-0.08) (1040.8,3.75) (1044.1,0.2) (1049,3.33) (1051.8,1.77) (1055,-1.9) (1058.3,-0.13) (1064.4,2.92) (1068.5,0.9) (1072.6,5.72) (1076.6,4.45) (1079.5,6.71) (1083.5,3.33) (1086.8,4.65) (1089.6,0.7) (1095.7,5.56) (1100.6,3.0) (1105.1,6.92) (1114,-2.84) (1118.1,-1.2) (1122.2,2.31) (1126.2,0) (1130.3,3.25) (1134.4,0.33) (1139.3,1.69) (1144.5,0.7) (1148.6,-1.15) (1153.9,2.39) (1159.6,6.22) (1164.1,2.76) (1169,1.93) (1175,-3.26) (1179,3.99) (1183.2,5.06) (1186.4,2.84) (1190.5,3.95) (1195.4,-1.86) (1199.4,3.67) (1202.7,1.44) (1208.4,3.83) (1212.9,0.78) (1221,3.91) (1223.8,-0.21) (1234,4.53) (1240.1,6.22) (1247.4,-0.41) (1253.5,3.21) (1256.5,-0.29) (1260,3.99) (1263,-0.5) (1267.2,1.98) (1269.2,1.11) (1271.3,3.0) (1273.3,2.14) (1278.2,6.14) (1281.4,3.0) (1285.5,5.06) (1288.3,2.8) (1292.4,5.35) (1295.7,2.02) (1299.7,5.06) (1303.8,3.33) (1309.1,0.78) (1310,-0.5) (1314,1.23) (1316.8,-1.07) (1319.3,0.9) (1322.1,2.39) (1325,1.89) (1330.2,-2.27) (1334.3,0.2) (1339.2,4.04) (1342.4,1.27) (1346.5,3.54) (1349.4,1.11) (1352.6,4.36) (1355.9,2.59) (1359.5,3.91) (1362,1.36) (1366,5.64) (1368.9,1.52) (1373,4.86) (1376.2,2.59) (1379,3.83) (1382.3,2.59) (1385.9,3.17) (1390,0.33) (1397.3,4.98) (1402.2,0.49) (1406.3,4.82) (1409.5,0.95) (1413.6,4.24) (1417.7,2.14) (1420.9,2.55) (1426.6,7.7) (1430.7,4.9) (1434,6.3) (1437.2,2.8) (1440.9,6.01) (1448.2,-0.66) (1453.5,6.34) (1457.5,4.12) (1462.4,7.91) (1467.3,2.96) (1473.8,5.39) (1477.9,2.43) (1482,3.0) (1486.8,5.15) (1491.7,3.75) (1495.8,3.67) (1499,0.12) (1503.1,0.78) (1505.9,-0.21) (1509.2,1.19) (1511.2,0.29) (1514.1,3.33) (1517.3,-0.21) (1522.2,2.18) (1527.5,-1.28) (1531.6,2.39) (1534.8,1.52) (1538.5,1.89) (1541.7,0.9) (1544.6,1.93) (1546.6,4.28) (1549.9,2.22) (1554,0.78) (1558,3.91) (1560.8,2.63) (1566.1,3.42) (1569.4,-0.04) (1573.4,5.44) (1576.3,3.75) (1580.4,0.95) (1585.2,6.01) (1590.5,0.49) (1594.6,3.0) (1600.7,6.14) (1604.8,2.63) (1609.6,-0.87) (1615,1.27) (1619.8,6.18) (1625.1,1.89) (1629.2,3.33) (1633.2,4.9) (1637.3,0.08) (1641.4,3.29) (1644.6,1.4) (1647.5,2.67) (1651.5,0.53) (1656.8,6.46) (1660.5,2.76) (1665,7.25) (1672.7,-0.33) (1678,5.44) (1682.8,1.36) (1686.1,3.38) (1692.2,0.25) (1696.3,3.17) (1699.1,0.95) (1702.4,5.15) (1707.7,0.45) (1712.5,4.24) (1716.6,3.0) (1720.7,1.36) (1725.6,4.82) (1731.7,2.35) (1737,5.97) (1743,0.99) (1748,0.66) (1752,4.2) (1756,2.22) (1761.3,4.45) (1764.2,2.55) (1768.3,7.29) (1774.8,0.82) (1777.6,1.98) (1781.7,1.07) (1785.7,2.63) (1788.6,2.18) (1792.7,-0.21) (1794,1.03)
};
\end{axis}

\node[font=\serifA\fontsize{21.8}{24}\selectfont, inner sep=0pt, anchor=center] at (426.2pt,412pt) {A};
\node[font=\serifA\fontsize{21.8}{24}\selectfont, inner sep=0pt, anchor=center] at (422.4pt,181.4pt) {B};
\end{tikzpicture}
\end{document}
